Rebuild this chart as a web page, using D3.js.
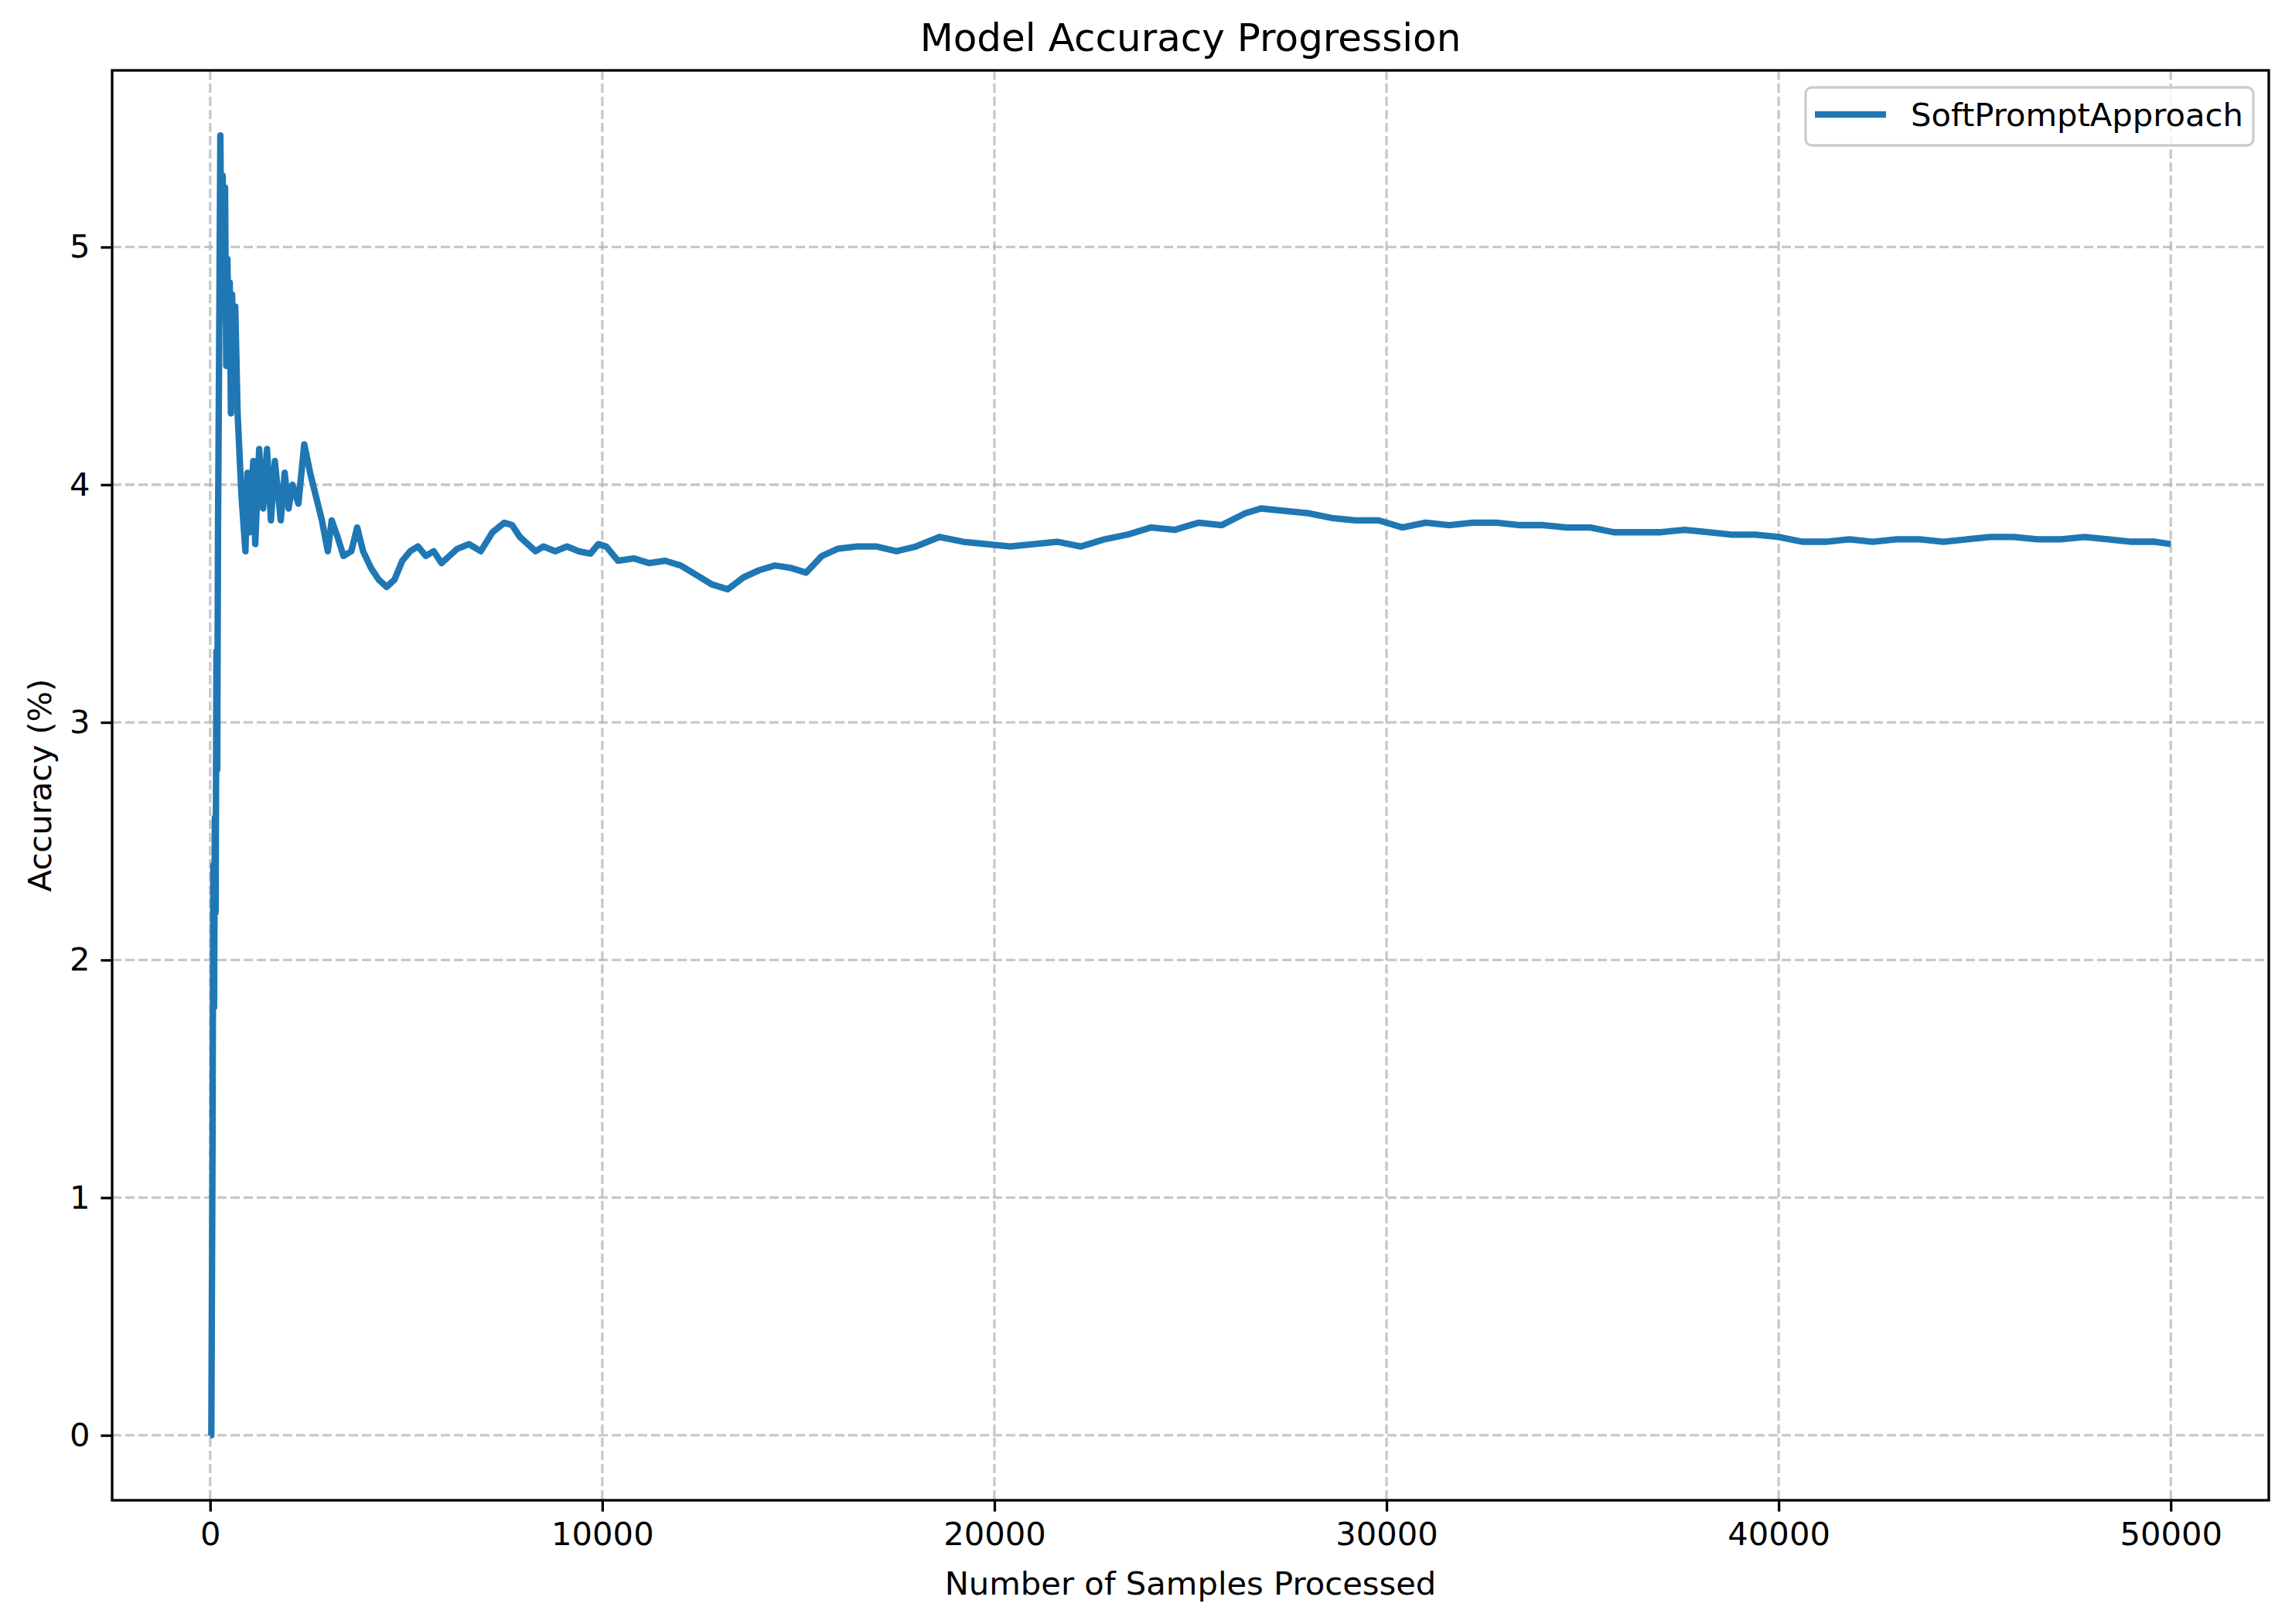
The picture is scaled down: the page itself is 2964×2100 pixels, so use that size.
<!DOCTYPE html>
<html lang="en">
<head>
<meta charset="UTF-8">
<script src="https://d3js.org/d3.v7.min.js"></script>
<title>Model Accuracy Progression</title>
<style>
  body { margin: 0; background: white; }
  text { font-family: "DejaVu Sans", sans-serif; }
</style>
</head>
<body>
<svg id="chart"></svg>
<script>
// samples processed and accuracy (%)
const samples = [0,30,60,80,100,120,140,160,180,200,230,260,290,320,350,380,410,440,470,500,530,560,600,640,700,800,900,950,1000,1100,1150,1250,1350,1450,1550,1650,1800,1900,2000,2100,2250,2400,2550,2700,2850,3000,3100,3250,3400,3600,3750,3900,4100,4300,4500,4700,4900,5100,5300,5500,5700,5900,6100,6300,6600,6900,7200,7500,7700,7900,8100,8300,8500,8800,9100,9400,9700,9900,10100,10400,10800,11200,11600,12000,12400,12800,13200,13600,14000,14400,14800,15200,15600,16000,16500,17000,17500,18000,18600,19200,19800,20400,21000,21600,22200,22800,23400,24000,24600,25200,25800,26400,26800,27400,28000,28600,29200,29800,30400,31000,31600,32200,32800,33400,34000,34600,35200,35800,36400,37000,37600,38200,38800,39400,40000,40600,41200,41800,42400,43000,43600,44200,44800,45400,46000,46600,47200,47800,48400,49000,49600,50000];
const accuracy = [0,0,1.2,2.4,1.8,2.6,2.2,3.3,2.8,3.8,4.6,5.47,4.8,5.3,4.7,5.25,4.5,4.95,4.6,4.85,4.3,4.8,4.4,4.75,4.3,3.95,3.72,4.05,3.8,4.1,3.75,4.15,3.9,4.15,3.85,4.1,3.85,4.05,3.9,4.0,3.92,4.17,4.05,3.95,3.85,3.72,3.85,3.78,3.7,3.72,3.82,3.72,3.65,3.6,3.57,3.6,3.68,3.72,3.74,3.7,3.72,3.67,3.7,3.73,3.75,3.72,3.8,3.84,3.83,3.78,3.75,3.72,3.74,3.72,3.74,3.72,3.71,3.75,3.74,3.68,3.69,3.67,3.68,3.66,3.62,3.58,3.56,3.61,3.64,3.66,3.65,3.63,3.7,3.73,3.74,3.74,3.72,3.74,3.78,3.76,3.75,3.74,3.75,3.76,3.74,3.77,3.79,3.82,3.81,3.84,3.83,3.88,3.9,3.89,3.88,3.86,3.85,3.85,3.82,3.84,3.83,3.84,3.84,3.83,3.83,3.82,3.82,3.8,3.8,3.8,3.81,3.8,3.79,3.79,3.78,3.76,3.76,3.77,3.76,3.77,3.77,3.76,3.77,3.78,3.78,3.77,3.77,3.78,3.77,3.76,3.76,3.75];
const xTicks = [0, 10000, 20000, 30000, 40000, 50000];
const yTicks = [0, 1, 2, 3, 4, 5];
const seriesName = "SoftPromptApproach";

const W = 2964, H = 2100;
const mLeft = 145, mRight = 2934, mTop = 91, mBottom = 1940;
const color = "#1f77b4";

const svg = d3.select("#chart").attr("width", W).attr("height", H);

const x = d3.scaleLinear().domain([-2500, 52500]).range([mLeft, mRight]);
const ymax = d3.max(accuracy);
const y = d3.scaleLinear().domain([-0.05 * ymax, ymax * 1.05]).range([mBottom, mTop]);

// grid
svg.append("g").selectAll("line").data(xTicks).enter().append("line")
   .attr("x1", d => x(d)).attr("x2", d => x(d)).attr("y1", mTop).attr("y2", mBottom)
   .attr("stroke", "#b0b0b0").attr("stroke-opacity", 0.7).attr("stroke-width", 3.3)
   .attr("stroke-dasharray", "12,5");
svg.append("g").selectAll("line").data(yTicks).enter().append("line")
   .attr("y1", d => y(d)).attr("y2", d => y(d)).attr("x1", mLeft).attr("x2", mRight)
   .attr("stroke", "#b0b0b0").attr("stroke-opacity", 0.7).attr("stroke-width", 3.3)
   .attr("stroke-dasharray", "12,5");

// line
const line = d3.line().x((d, i) => x(samples[i])).y(d => y(d));
svg.append("path").datum(accuracy).attr("d", line)
   .attr("fill", "none").attr("stroke", color).attr("stroke-width", 8.3)
   .attr("stroke-linejoin", "round");

// axes
const xAxis = d3.axisBottom(x).tickValues(xTicks).tickFormat(d3.format("d"))
   .tickSize(14.6).tickPadding(14).tickSizeOuter(0);
const gx = svg.append("g").attr("transform", `translate(0,${mBottom})`).call(xAxis);
const yAxis = d3.axisLeft(y).tickValues(yTicks).tickFormat(d3.format("d"))
   .tickSize(14.6).tickPadding(14).tickSizeOuter(0);
const gy = svg.append("g").attr("transform", `translate(${mLeft},0)`).call(yAxis);
[gx, gy].forEach(g => {
  g.select(".domain").remove();
  g.selectAll("line").attr("stroke-width", 3.3);
  g.selectAll("text").style("font-size", "41.7px").attr("fill", "black");
});

svg.append("rect").attr("x", mLeft).attr("y", mTop)
   .attr("width", mRight - mLeft).attr("height", mBottom - mTop)
   .attr("fill", "none").attr("stroke", "black").attr("stroke-width", 3.3);

// labels
svg.append("text").attr("x", (mLeft + mRight) / 2).attr("y", 66).attr("text-anchor", "middle")
   .style("font-size", "50px").text("Model Accuracy Progression");
svg.append("text").attr("x", (mLeft + mRight) / 2).attr("y", 2062).attr("text-anchor", "middle")
   .style("font-size", "41.7px").text("Number of Samples Processed");
svg.append("text").attr("transform", `translate(66,${(mTop + mBottom) / 2}) rotate(-90)`)
   .attr("text-anchor", "middle").style("font-size", "41.7px").text("Accuracy (%)");

// legend
const lg = svg.append("g");
lg.append("rect").attr("x", 2335).attr("y", 113).attr("width", 579).attr("height", 75)
  .attr("rx", 8).attr("fill", "white").attr("fill-opacity", 0.8)
  .attr("stroke", "#cccccc").attr("stroke-width", 3.3);
lg.append("line").attr("x1", 2347).attr("x2", 2439).attr("y1", 148).attr("y2", 148)
  .attr("stroke", color).attr("stroke-width", 8.3);
lg.append("text").attr("x", 2471).attr("y", 163).style("font-size", "41.7px").text(seriesName);
</script>
</body>
</html>
